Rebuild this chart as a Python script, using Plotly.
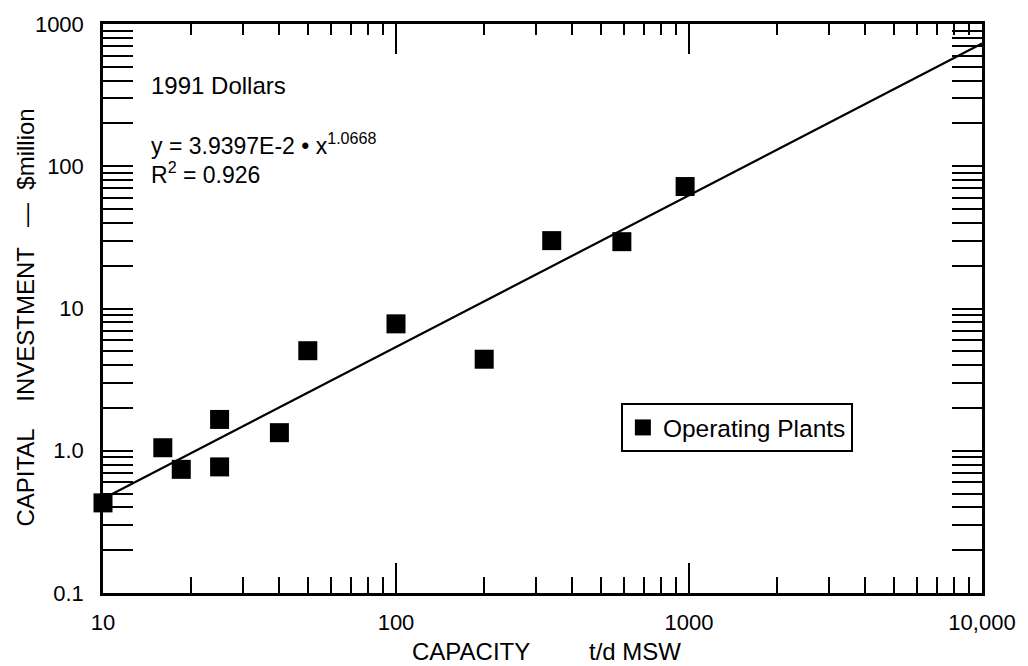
import plotly.graph_objects as go

# ---- data ----
capacity = [10, 16, 18.5, 25, 25, 40, 50, 100, 200, 340, 590, 970]          # t/d MSW
investment = [0.43, 1.05, 0.74, 1.66, 0.77, 1.34, 5.05, 7.8, 4.4, 30, 29.5, 72]  # $million

fit_a = 3.9397e-2
fit_b = 1.0668
fit_x = [10, 10000]
fit_y = [fit_a * x ** fit_b for x in fit_x]

x_tickvals = [10, 100, 1000, 10000]
x_ticktext = ["10", "100", "1000", "10,000"]
y_tickvals = [0.1, 1, 10, 100, 1000]
y_ticktext = ["0.1", "1.0", "10", "100", "1000"]
x_minor = [m * 10 ** k for k in (1, 2, 3) for m in range(2, 10)]
y_minor = [m * 10 ** k for k in (-1, 0, 1, 2) for m in range(2, 10)]

FONT = "Liberation Sans, Arial, Helvetica, sans-serif"

# plot area in pixels (for placing free text)
L, R, T, B = 103, 989, 24, 593
W, H = 1028, 666


def px(x):
    return (x - L) / (R - L)


def py(y):
    return (B - y) / (B - T)


fig = go.Figure()

fig.add_trace(go.Scatter(
    x=fit_x, y=fit_y, mode="lines",
    line=dict(color="black", width=2.2),
    showlegend=False, hoverinfo="skip",
))

fig.add_trace(go.Scatter(
    x=capacity, y=investment, mode="markers",
    name="Operating Plants",
    marker=dict(symbol="square", size=19, color="black",
                line=dict(width=0)),
    cliponaxis=False,
))

# dummy trace to make the top axis exist
fig.add_trace(go.Scatter(x=[None], y=[None], xaxis="x2", yaxis="y",
                         showlegend=False, hoverinfo="skip"))

axis_common = dict(
    showgrid=False, zeroline=False, showline=True,
    linecolor="black", linewidth=2.5,
    ticks="inside", tickcolor="black", tickwidth=2,
)

fig.update_layout(
    width=W, height=H,
    margin=dict(l=L, r=W - R, t=T, b=H - B),
    paper_bgcolor="white", plot_bgcolor="white",
    font=dict(family=FONT, color="black", size=22),
    xaxis=dict(
        type="log", range=[1, 4],
        tickmode="array", tickvals=x_tickvals, ticktext=x_ticktext,
        ticklen=30, mirror=False,
        minor=dict(tickmode="array", tickvals=x_minor, ticks="inside",
                   ticklen=16, tickwidth=2, tickcolor="black"),
        tickfont=dict(size=22),
        ticklabelstandoff=8,
        **axis_common,
    ),
    xaxis2=dict(
        type="log", range=[1, 4], overlaying="x", side="top", anchor="y",
        tickmode="array", tickvals=x_tickvals,
        showticklabels=False, ticklen=30,
        minor=dict(tickmode="array", tickvals=x_minor, ticks="inside",
                   ticklen=11, tickwidth=2, tickcolor="black"),
        **axis_common,
    ),
    yaxis=dict(
        type="log", range=[-1, 3],
        tickmode="array", tickvals=y_tickvals, ticktext=y_ticktext,
        ticklen=30, mirror="allticks",
        minor=dict(tickmode="array", tickvals=y_minor, ticks="inside",
                   ticklen=16, tickwidth=2, tickcolor="black"),
        tickfont=dict(size=22),
        ticklabelstandoff=12,
        **axis_common,
    ),
    showlegend=True,
    legend=dict(
        x=px(625), y=py(403), xanchor="left", yanchor="top",
        bgcolor="white", bordercolor="black", borderwidth=2,
        font=dict(size=24.5, family=FONT),
    ),
)

annotations = [
    dict(text="1991 Dollars", x=px(149), y=py(85), xanchor="left", yanchor="middle",
         font=dict(size=24)),
    dict(text="y = 3.9397E-2 \u2022 x<sup>1.0668</sup>", x=px(149), y=py(161),
         xanchor="left", yanchor="bottom", font=dict(size=23)),
    dict(text="R<sup>2</sup> = 0.926", x=px(149), y=py(156), xanchor="left",
         yanchor="top", font=dict(size=23)),
    dict(text="CAPITAL&nbsp;&nbsp;&nbsp;&nbsp;INVESTMENT&nbsp;&nbsp;&nbsp;\u2014&nbsp;&nbsp;$million",
         x=px(24), y=py(318), xanchor="center", yanchor="middle", textangle=-90,
         font=dict(size=24)),
    dict(text="CAPACITY", x=px(412), y=py(651), xanchor="left", yanchor="middle",
         font=dict(size=24)),
    dict(text="t/d MSW", x=px(688), y=py(651), xanchor="right", yanchor="middle",
         font=dict(size=24)),
]
for a in annotations:
    a.update(xref="paper", yref="paper", showarrow=False)
fig.update_layout(annotations=annotations)

fig.write_html("out.html")
